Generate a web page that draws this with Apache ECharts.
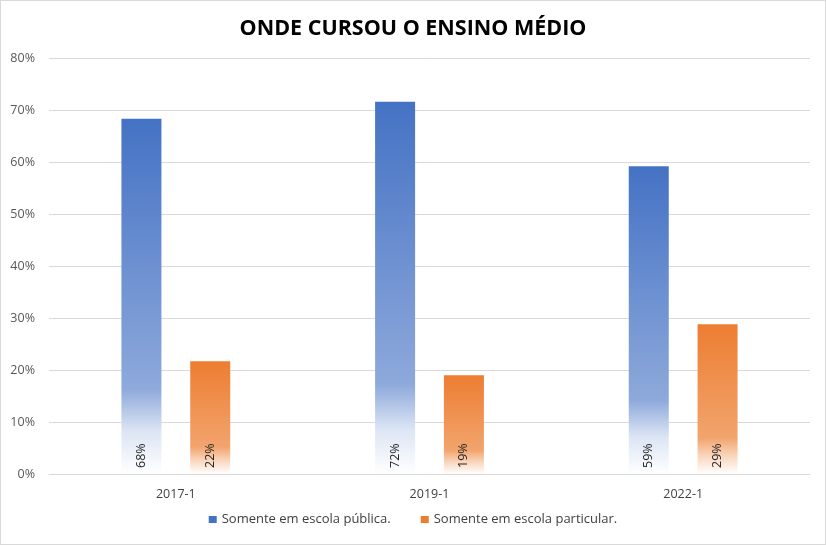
<!DOCTYPE html>
<html><head><meta charset="utf-8">
<script src="https://cdn.jsdelivr.net/npm/echarts@6/dist/echarts.min.js"></script>
<style>html,body{margin:0;padding:0;background:#fff}#c{width:824px;height:543px;border:1px solid #d9d9d9}</style>
</head><body><div id="c"></div>
<script>
const categories = ['2017-1', '2019-1', '2022-1'];
const publica = [68.3, 71.6, 59.2];
const particular = [21.7, 19.0, 28.8];
const publicaLabels = ['68%', '72%', '59%'];
const particularLabels = ['22%', '19%', '29%'];
const yTicks = [0, 10, 20, 30, 40, 50, 60, 70, 80];
const seriesNames = ['Somente em escola pública.', 'Somente em escola particular.'];

function grad(top, mid, low) {
  return new echarts.graphic.LinearGradient(0, 0, 0, 1, [
    {offset: 0, color: top},
    {offset: 0.76, color: mid},
    {offset: 0.88, color: low},
    {offset: 1, color: '#ffffff'}
  ]);
}
const chart = echarts.init(document.getElementById('c'));
const lbl = (arr) => ({
  show: true, position: 'insideBottom', rotate: 90, align: 'left', verticalAlign: 'middle',
  distance: 6, fontSize: 12.5, color: '#262626', fontFamily: 'Open Sans',
  formatter: p => arr[p.dataIndex]
});
chart.setOption({
  animation: false,
  title: {text: 'ONDE CURSOU O ENSINO MÉDIO', left: 'center', top: 12,
    textStyle: {fontFamily: 'Open Sans', fontWeight: 'bold', fontSize: 21.5, color: '#000'}},
  legend: {bottom: 13, left: 'center', itemWidth: 8, itemHeight: 7, itemGap: 30, icon: 'rect',
    textStyle: {fontFamily: 'Open Sans', fontSize: 13, color: '#404040'},
    data: [{name: seriesNames[0], itemStyle: {color: '#4472C4'}}, {name: seriesNames[1], itemStyle: {color: '#ED7D31'}}]},
  grid: {left: 48, right: 15, top: 57, bottom: 70},
  xAxis: {type: 'category', data: categories,
    axisLine: {lineStyle: {color: '#d9d9d9'}}, axisTick: {show: false},
    axisLabel: {fontFamily: 'Open Sans', fontSize: 12.5, color: '#404040', margin: 14}},
  yAxis: {type: 'value', min: yTicks[0], max: yTicks[yTicks.length - 1], interval: 10,
    axisLine: {show: false}, axisTick: {show: false},
    splitLine: {lineStyle: {color: '#d9d9d9'}},
    axisLabel: {formatter: '{value}%', fontFamily: 'Open Sans', fontSize: 12.5, color: '#595959', margin: 14}},
  series: [
    {name: seriesNames[0], type: 'bar', data: publica, barWidth: 40, barGap: '72%',
      itemStyle: {color: grad('#4472C4', '#8EA9DB', '#dce5f4')}, label: lbl(publicaLabels)},
    {name: seriesNames[1], type: 'bar', data: particular, barWidth: 40,
      itemStyle: {color: grad('#ED7D31', '#F2A46D', '#f9d6bd')}, label: lbl(particularLabels)}
  ]
});
</script></body></html>
